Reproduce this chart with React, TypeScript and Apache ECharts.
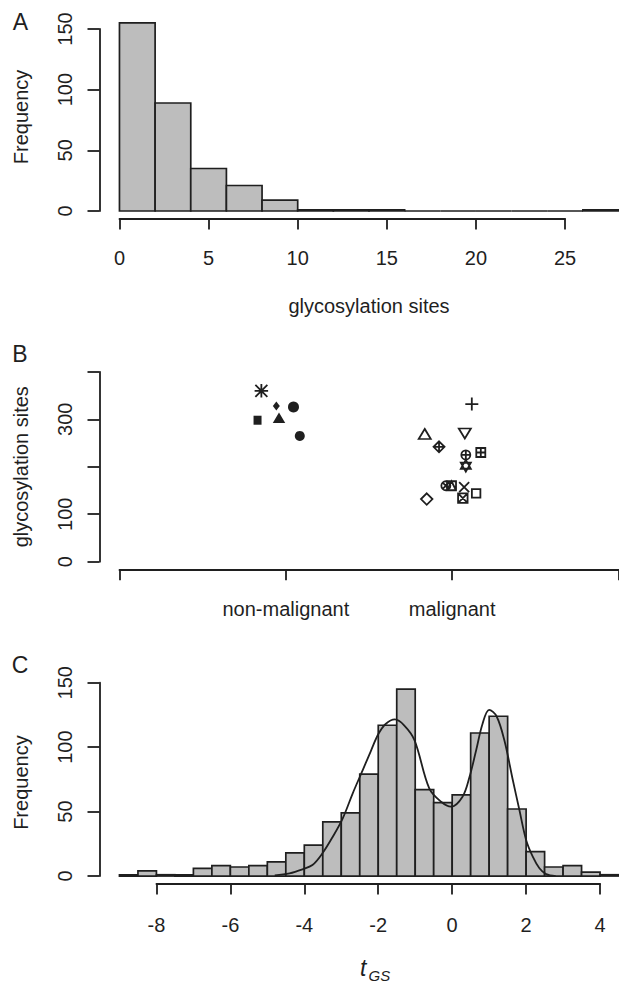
import { useEffect, useRef } from "react";
import * as echarts from "echarts";

// ---------------- Panel A: histogram of glycosylation sites ----------------
const aBinEdges = [0, 2, 4, 6, 8, 10, 12, 14, 16, 18, 20, 22, 24, 26, 28];
const aCounts = [155, 89, 35, 21, 9, 1, 1, 1, 0, 0, 0, 0, 0, 1];
const aXTicks = [0, 5, 10, 15, 20, 25];
const aYTicks = [0, 50, 100, 150];

// ---------------- Panel B: glycosylation sites by tissue class ----------------
const bCategories = ["non-malignant", "malignant"];
const bYTicks = [0, 100, 200, 300, 400];
const bYTickLabels = ["0", "100", "", "300", ""];
const nonMalignantX = [0.853, 0.943, 1.046, 0.83, 0.959, 1.084];
const nonMalignantY = [360, 328, 326, 298, 303, 265];
const nonMalignantPch = [8, 18, 19, 15, 17, 16];
const malignantX = [2.118, 1.835, 2.076, 1.921, 2.082, 2.172, 2.082, 1.962, 1.996, 2.072, 2.144, 2.064, 1.847];
const malignantY = [332, 269, 270, 242, 225, 230, 202, 160, 160, 157, 144, 134, 132];
const malignantPch = [3, 2, 6, 9, 10, 12, 11, 13, 14, 4, 0, 7, 5];

// ---------------- Panel C: histogram of t_GS with density ----------------
const cBinEdges = [
  -9, -8.5, -8, -7.5, -7, -6.5, -6, -5.5, -5, -4.5, -4, -3.5, -3, -2.5, -2, -1.5,
  -1, -0.5, 0, 0.5, 1, 1.5, 2, 2.5, 3, 3.5, 4, 4.5,
];
const cCounts = [1, 4, 1, 1, 6, 8, 7, 8, 11, 18, 24, 42, 49, 79, 117, 145, 67, 57, 63, 111, 124, 52, 19, 7, 8, 3, 1];
const cXTicks = [-8, -6, -4, -2, 0, 2, 4];
const cYTicks = [0, 50, 100, 150];
const densityX = [-4.8, -4.4, -4.05, -3.78, -3.51, -3.23, -2.96, -2.69, -2.42, -2.2, -2.0, -1.8, -1.55, -1.3, -1.02, -0.62, -0.3, -0.03, 0.28, 0.47, 0.65, 0.82, 1.0, 1.2, 1.41, 1.64, 1.82, 2.0, 2.18, 2.36, 2.54, 2.8];
const densityY = [0.5, 2.1, 5.2, 8.5, 17.6, 30.5, 44.8, 64.2, 82.2, 97, 110, 118, 121.5, 117, 105.5, 68, 57.6, 53.8, 61.5, 77, 97.8, 118, 129, 124, 105.5, 74.5, 51, 28, 15, 6, 1.5, 0];

// ---------------- styling / layout ----------------
const W = 619;
const H = 984;
const CW = 660; // drawing canvas is wider; the figure is cropped at W like the reference
const INK = "#1f1f1f";
const BAR_FILL = "#bdbdbd";
const FONT = "'Liberation Sans', Arial, Helvetica, sans-serif";
const PL = 99.5;
const PW = 539;

type Panel = { top: number; height: number; xMin: number; xMax: number; yMin: number; yMax: number };
const PA: Panel = { top: 15.4, height: 203.1, xMin: -1.12, xMax: 29.12, yMin: -6.2, yMax: 161.2 };
const PB: Panel = { top: 364.2, height: 205.1, xMin: -0.12, xMax: 3.12, yMin: -16, yMax: 416 };
const PC: Panel = { top: 681.7, height: 201.8, xMin: -9.54, xMax: 5.04, yMin: -5.8, yMax: 150.8 };

const px = (p: Panel, x: number) => PL + ((x - p.xMin) / (p.xMax - p.xMin)) * PW;
const py = (p: Panel, y: number) => p.top + (p.height * (p.yMax - y)) / (p.yMax - p.yMin);

const SQ = "M2,2 L18,2 L18,18 L2,18 Z";
const CI = "M18,10 A8,8 0 1,1 2,10 A8,8 0 1,1 18,10 Z";
const PLUS = "M10,1 L10,19 M1,10 L19,10";
const CROSS = "M2,2 L18,18 M18,2 L2,18";
const DIA = "M10,1 L19,10 L10,19 L1,10 Z";

type Sym = { symbol: string; size: number | number[]; filled: boolean };
const PCH: Record<number, Sym> = {
  0: { symbol: "path://" + SQ, size: 8.5, filled: false },
  1: { symbol: "path://" + CI, size: 9, filled: false },
  2: { symbol: "path://M10,2 L18.66,17 L1.34,17 Z", size: [12, 10], filled: false },
  3: { symbol: "path://" + PLUS, size: 13, filled: false },
  4: { symbol: "path://" + CROSS, size: 10, filled: false },
  5: { symbol: "path://" + DIA, size: 11.5, filled: false },
  6: { symbol: "path://M1.34,3 L18.66,3 L10,18 Z", size: [12, 10], filled: false },
  7: { symbol: "path://" + SQ + " " + CROSS, size: 9.5, filled: false },
  8: { symbol: "path://" + PLUS + " " + CROSS, size: 13.5, filled: false },
  9: { symbol: "path://" + DIA + " " + PLUS, size: 11, filled: false },
  10: { symbol: "path://" + CI + " " + "M10,2 L10,18 M2,10 L18,10", size: 9, filled: false },
  11: { symbol: "path://M10,0 L18.66,15 L1.34,15 Z M10,20 L1.34,5 L18.66,5 Z", size: [10, 12], filled: false },
  12: { symbol: "path://" + SQ + " M10,2 L10,18 M2,10 L18,10", size: 9, filled: false },
  13: { symbol: "path://" + CI + " M4.34,4.34 L15.66,15.66 M15.66,4.34 L4.34,15.66", size: 9, filled: false },
  14: { symbol: "path://" + SQ + " M2,18 L10,2 L18,18", size: 9, filled: false },
  15: { symbol: "rect", size: [8, 9], filled: true },
  16: { symbol: "circle", size: 10, filled: true },
  17: { symbol: "path://M10,2 L18.66,17 L1.34,17 Z", size: [12.5, 10.5], filled: true },
  18: { symbol: "diamond", size: [7, 9], filled: true },
  19: { symbol: "circle", size: 11, filled: true },
};

function pointItem(x: number, y: number, pch: number) {
  const s = PCH[pch];
  return {
    value: [x, y],
    symbol: s.symbol,
    symbolSize: s.size,
    itemStyle: s.filled
      ? { color: INK, borderColor: INK, borderWidth: 0, opacity: 1 }
      : { color: "rgba(0,0,0,0)", borderColor: INK, borderWidth: 1.8, opacity: 1 },
  };
}

const lineStyle = { color: INK, width: 1.8 };
const labelBase = { color: INK, fontSize: 20, fontFamily: FONT, showMinLabel: true, showMaxLabel: true, hideOverlap: false };

function histRender(params: any, api: any) {
  const p0 = api.coord([api.value(0), api.value(2)]);
  const p1 = api.coord([api.value(1), 0]);
  return {
    type: "rect",
    shape: { x: p0[0], y: p0[1], width: p1[0] - p0[0], height: p1[1] - p0[1] },
    style: { fill: BAR_FILL, stroke: INK, lineWidth: 1.7 },
  };
}

function buildPanel(p: Panel, gi: number, xTicks: number[], yTicks: number[], xInterval: number, yInterval: number,
  xFormatter: (v: number) => string, yFormatter: (v: number) => string, xMargin: number) {
  const xt0 = xTicks[0];
  const xt1 = xTicks[xTicks.length - 1];
  const yt0 = yTicks[0];
  const yt1 = yTicks[yTicks.length - 1];
  const plotBottom = p.top + p.height;
  const grids = [
    { left: PL, top: p.top, width: PW, height: p.height },
    { left: PL, top: py(p, yt1), width: 40, height: py(p, yt0) - py(p, yt1) },
    { left: px(p, xt0), top: plotBottom - 10, width: px(p, xt1) - px(p, xt0), height: 10 },
  ];
  const xAxes = [
    { type: "value", gridIndex: gi, min: p.xMin, max: p.xMax, show: false },
    { type: "value", gridIndex: gi + 1, min: 0, max: 1, show: false },
    {
      type: "value", gridIndex: gi + 2, min: xt0, max: xt1, interval: xInterval, position: "bottom",
      axisLine: { show: true, onZero: false, lineStyle },
      axisTick: { show: true, inside: false, length: 11, lineStyle },
      splitLine: { show: false },
      axisLabel: { ...labelBase, margin: xMargin, formatter: xFormatter },
    },
  ];
  const yAxes = [
    { type: "value", gridIndex: gi, min: p.yMin, max: p.yMax, show: false },
    {
      type: "value", gridIndex: gi + 1, min: yt0, max: yt1, interval: yInterval, position: "left",
      axisLine: { show: true, onZero: false, lineStyle },
      axisTick: { show: true, inside: false, length: 12, lineStyle },
      splitLine: { show: false },
      axisLabel: { ...labelBase, rotate: 90, margin: 25, formatter: yFormatter },
    },
    { type: "value", gridIndex: gi + 2, min: 0, max: 1, show: false },
  ];
  return { grids, xAxes, yAxes };
}

export default function App() {
  const ref = useRef<HTMLDivElement>(null);
  useEffect(() => {
    if (!ref.current) return;
    const chart = echarts.init(ref.current, undefined, { renderer: "svg", width: CW, height: H });

    const A = buildPanel(PA, 0, aXTicks, aYTicks, 5, 50, (v) => String(v), (v) => String(v), 29);
    const B = buildPanel(PB, 3, [0, 1, 2, 3], bYTicks, 1, 100,
      (v) => bCategories[Math.round(v) - 1] ?? "",
      (v) => bYTickLabels[bYTicks.indexOf(v)] ?? "", 30);
    const C = buildPanel(PC, 6, cXTicks, cYTicks, 2, 50, (v) => String(v), (v) => String(v), 31);

    const aBars = aCounts.map((c, i) => [aBinEdges[i], aBinEdges[i + 1], c]);
    const cBars = cCounts.map((c, i) => [cBinEdges[i], cBinEdges[i + 1], c]);

    const textStyle = (text: string, size = 20, extra: any = {}) => ({
      text, fontSize: size, fontFamily: FONT, fill: INK, align: "center", verticalAlign: "middle", ...extra,
    });

    const option: any = {
      animation: false,
      backgroundColor: "#ffffff",
      grid: [...A.grids, ...B.grids, ...C.grids],
      xAxis: [...A.xAxes, ...B.xAxes, ...C.xAxes],
      yAxis: [...A.yAxes, ...B.yAxes, ...C.yAxes],
      series: [
        {
          type: "custom", xAxisIndex: 0, yAxisIndex: 0, data: aBars, renderItem: histRender,
          encode: { x: [0, 1], y: 2 }, silent: true,
        },
        {
          type: "scatter", xAxisIndex: 3, yAxisIndex: 3, silent: true,
          data: nonMalignantX.map((x, i) => pointItem(x, nonMalignantY[i], nonMalignantPch[i])),
        },
        {
          type: "scatter", xAxisIndex: 3, yAxisIndex: 3, silent: true,
          data: malignantX.map((x, i) => pointItem(x, malignantY[i], malignantPch[i])),
        },
        {
          type: "custom", xAxisIndex: 6, yAxisIndex: 6, data: cBars, renderItem: histRender,
          encode: { x: [0, 1], y: 2 }, silent: true,
        },
        {
          type: "line", xAxisIndex: 6, yAxisIndex: 6, silent: true, z: 5,
          data: densityX.map((x, i) => [x, densityY[i]]),
          smooth: 0.35, showSymbol: false, symbol: "none",
          lineStyle: { color: INK, width: 1.8 },
        },
      ],
      graphic: [
        { type: "text", x: 20.5, y: 21.5, style: textStyle("A", 23) },
        { type: "text", x: 20, y: 353.5, style: textStyle("B", 23) },
        { type: "text", x: 20, y: 665, style: textStyle("C", 23) },
        { type: "text", x: 20.5, y: PA.top + PA.height / 2, rotation: Math.PI / 2, style: textStyle("Frequency") },
        { type: "text", x: PL + PW / 2, y: 306, style: textStyle("glycosylation sites") },
        { type: "text", x: 20.5, y: PB.top + PB.height / 2, rotation: Math.PI / 2, style: textStyle("glycosylation sites") },
        { type: "text", x: 20.5, y: PC.top + PC.height / 2, rotation: Math.PI / 2, style: textStyle("Frequency") },
        { type: "text", x: 360, y: 968, style: textStyle("t", 23, { align: "left", fontStyle: "italic" }) },
        { type: "text", x: 368.5, y: 975, style: textStyle("GS", 15, { align: "left", fontStyle: "italic" }) },
      ],
    };
    chart.setOption(option);
    return () => chart.dispose();
  }, []);
  return (
    <div style={{ position: "fixed", left: 0, top: 0, width: W, height: H, overflow: "hidden", background: "#fff" }}>
      <div ref={ref} style={{ width: CW, height: H }} />
    </div>
  );
}
